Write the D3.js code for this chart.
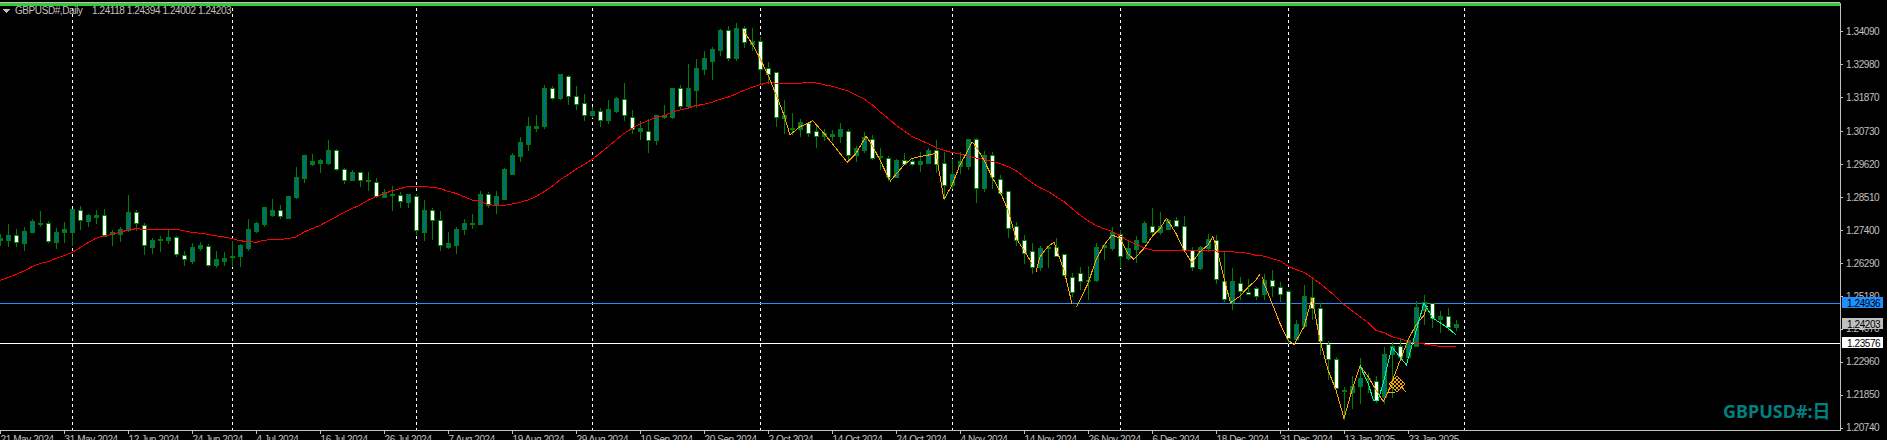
<!DOCTYPE html>
<html>
<head>
<meta charset="utf-8">
<title>GBPUSD#,Daily</title>
<script src="https://cdn.jsdelivr.net/npm/d3@7"></script>
<style>
html,body {margin:0;padding:0;background:#000;overflow:hidden;}
svg {display:block;}
svg path,svg line,svg rect {shape-rendering:crispEdges;}
text {font-family:"Liberation Sans",sans-serif;font-size:10px;fill:#c0c0c0;letter-spacing:-0.42px;}
</style>
</head>
<body>
<svg id="chart"></svg>
<script>
//values, one per daily bar
var opens = [
1.2705,1.2706,1.2720,1.2693,1.2731,1.2760,1.2762,1.2699,1.2731,1.2731,
1.2806,1.2767,1.2781,1.2789,1.2725,1.2724,1.2738,1.2799,1.2755,1.2682,
1.2705,1.2706,1.2715,1.2654,1.2632,1.2679,1.2685,1.2619,1.2635,1.2650,
1.2649,1.2676,1.2736,1.2757,1.2790,1.2807,1.2780,1.2848,1.2912,1.2959,
1.2965,1.2965,1.3008,1.2945,1.2908,1.2934,1.2905,1.2901,1.2848,1.2855,
1.2857,1.2834,1.2854,1.2731,1.2804,1.2773,1.2682,1.2686,1.2740,1.2759,
1.2757,1.2858,1.2821,1.2844,1.2928,1.2986,1.3029,1.3083,1.3087,1.3215,
1.3181,1.3258,1.3191,1.3167,1.3127,1.3140,1.3110,1.3140,1.3178,1.3117,
1.3073,1.3070,1.3040,1.3119,1.3117,1.3218,1.3157,1.3208,1.3279,1.3306,
1.3343,1.3413,1.3319,1.3417,1.3363,1.3376,1.3285,1.3269,1.3114,1.3077,
1.3077,1.3100,1.3070,1.3056,1.3056,1.3056,1.3073,1.2989,1.3006,1.3043,
1.2983,1.2982,1.2918,1.2975,1.2972,1.2959,1.2965,1.3006,1.2965,1.2891,
1.2955,1.2952,1.3043,1.2878,1.2989,1.2911,1.2868,1.2750,1.2703,1.2666,
1.2612,1.2678,1.2682,1.2656,1.2581,1.2592,1.2565,1.2568,1.2681,1.2679,
1.2723,1.2645,1.2673,1.2699,1.2753,1.2731,1.2740,1.2772,1.2752,1.2672,
1.2609,1.2679,1.2705,1.2567,1.2495,1.2560,1.2528,1.2543,1.2523,1.2570,
1.2547,1.2533,1.2372,1.2414,1.2513,1.2476,1.2355,1.2304,1.2196,1.2194,
1.2211,1.2235,1.2231,1.2174,1.2319,1.2346,1.2309,1.2349,1.2470,1.2491,
1.2437,1.2447,1.24118]

var highs = [
1.2729,1.2762,1.2745,1.2751,1.2779,1.2805,1.2773,1.2749,1.2767,1.2809,
1.2821,1.2796,1.2809,1.2813,1.2740,1.2753,1.2861,1.2809,1.2766,1.2713,
1.2722,1.2740,1.2722,1.2672,1.2699,1.2702,1.2693,1.2672,1.2666,1.2706,
1.2695,1.2780,1.2769,1.2817,1.2847,1.2827,1.2852,1.2952,1.2992,1.2996,
1.2982,1.3046,1.3013,1.2951,1.2945,1.2935,1.2938,1.2915,1.2881,1.2891,
1.2868,1.2864,1.2864,1.2841,1.2817,1.2804,1.2736,1.2753,1.2777,1.2796,
1.2874,1.2871,1.2874,1.2949,1.3000,1.3053,1.3121,1.3130,1.3231,1.3225,
1.3268,1.3265,1.3228,1.3201,1.3157,1.3151,1.3178,1.3188,1.3238,1.3144,
1.3110,1.3114,1.3127,1.3161,1.3218,1.3231,1.3299,1.3316,1.3343,1.3359,
1.3417,1.3430,1.3437,1.3430,1.3423,1.3390,1.3306,1.3275,1.3178,1.3137,
1.3114,1.3103,1.3100,1.3082,1.3077,1.3103,1.3080,1.3026,1.3073,1.3060,
1.3016,1.2992,1.2982,1.3000,1.2979,1.3003,1.3019,1.3046,1.3003,1.2982,
1.3003,1.3043,1.3050,1.3009,1.3003,1.2928,1.2874,1.2770,1.2723,1.2699,
1.2689,1.2686,1.2716,1.2662,1.2595,1.2616,1.2619,1.2696,1.2695,1.2753,
1.2740,1.2706,1.2720,1.2773,1.2814,1.2801,1.2779,1.2785,1.2790,1.2684,
1.2689,1.2729,1.2723,1.2672,1.2614,1.2582,1.2577,1.2549,1.2594,1.2607,
1.2566,1.2538,1.2437,1.2555,1.2580,1.2495,1.2369,1.2313,1.2212,1.2251,
1.2309,1.2261,1.2248,1.2346,1.2363,1.2379,1.2379,1.2501,1.2524,1.2497,
1.2467,1.2480,1.24394]

var lows = [
1.2686,1.2684,1.2684,1.2672,1.2731,1.2753,1.2697,1.2679,1.2699,1.2689,
1.2740,1.2753,1.2760,1.2717,1.2686,1.2702,1.2734,1.2738,1.2656,1.2659,
1.2666,1.2695,1.2652,1.2619,1.2627,1.2670,1.2616,1.2612,1.2619,1.2616,
1.2616,1.2672,1.2733,1.2753,1.2785,1.2778,1.2778,1.2845,1.2901,1.2958,
1.2935,1.2962,1.2940,1.2897,1.2905,1.2885,1.2874,1.2850,1.2848,1.2804,
1.2817,1.2817,1.2725,1.2706,1.2709,1.2672,1.2679,1.2662,1.2726,1.2746,
1.2757,1.2814,1.2797,1.2844,1.2928,1.2972,1.3009,1.3073,1.3083,1.3178,
1.3178,1.3164,1.3144,1.3107,1.3117,1.3087,1.3100,1.3134,1.3107,1.3065,
1.3046,1.3000,1.3029,1.3116,1.3114,1.3144,1.3154,1.3151,1.3265,1.3245,
1.3329,1.3309,1.3309,1.3356,1.3346,1.3231,1.3234,1.3090,1.3065,1.3060,
1.3054,1.3053,1.3016,1.3040,1.3040,1.3033,1.2976,1.2972,1.3000,1.2976,
1.2942,1.2908,1.2918,1.2959,1.2956,1.2938,1.2965,1.2935,1.2841,1.2880,
1.2931,1.2945,1.2831,1.2868,1.2881,1.2861,1.2716,1.2686,1.2627,1.2594,
1.2605,1.2612,1.2652,1.2583,1.2515,1.2541,1.2504,1.2565,1.2642,1.2670,
1.2615,1.2639,1.2630,1.2699,1.2720,1.2723,1.2740,1.2751,1.2672,1.2605,
1.2607,1.2667,1.2560,1.2498,1.2473,1.2504,1.2521,1.2504,1.2504,1.2515,
1.2498,1.2358,1.2369,1.2412,1.2437,1.2319,1.2237,1.2207,1.2102,1.2137,
1.2157,1.2194,1.2160,1.2157,1.2177,1.2302,1.2309,1.2346,1.2423,1.2413,
1.2393,1.2400,1.24002]

var closes = [
1.2712,1.2720,1.2697,1.2736,1.2770,1.2762,1.2700,1.2733,1.2743,1.2809,
1.2771,1.2787,1.2790,1.2717,1.2733,1.2740,1.2800,1.2761,1.2687,1.2706,
1.2709,1.2716,1.2656,1.2640,1.2682,1.2689,1.2619,1.2639,1.2645,1.2652,
1.2686,1.2743,1.2760,1.2817,1.2807,1.2784,1.2851,1.2915,1.2989,1.2969,
1.2975,1.3009,1.2942,1.2908,1.2935,1.2906,1.2907,1.2851,1.2867,1.2860,
1.2835,1.2858,1.2738,1.2807,1.2773,1.2689,1.2693,1.2743,1.2760,1.2763,
1.2861,1.2821,1.2851,1.2945,1.2989,1.3033,1.3087,1.3090,1.3215,1.3184,
1.3262,1.3188,1.3164,1.3124,1.3140,1.3110,1.3147,1.3181,1.3124,1.3077,
1.3080,1.3040,1.3127,1.3124,1.3218,1.3157,1.3215,1.3285,1.3316,1.3349,
1.3413,1.3319,1.3417,1.3370,1.3376,1.3282,1.3265,1.3120,1.3124,1.3083,
1.3103,1.3066,1.3056,1.3066,1.3063,1.3077,1.2989,1.3013,1.3050,1.2982,
1.2986,1.2918,1.2975,1.2959,1.2959,1.2969,1.3006,1.2962,1.2891,1.2925,
1.2969,1.3043,1.2878,1.2989,1.2915,1.2864,1.2746,1.2706,1.2662,1.2615,
1.2679,1.2682,1.2652,1.2588,1.2528,1.2565,1.2571,1.2682,1.2686,1.2733,
1.2649,1.2676,1.2703,1.2760,1.2733,1.2751,1.2773,1.2752,1.2672,1.2614,
1.2681,1.2708,1.2574,1.2504,1.2567,1.2533,1.2523,1.2516,1.2570,1.2550,
1.2521,1.2375,1.2423,1.2516,1.2476,1.2365,1.2304,1.2207,1.2200,1.2214,
1.2238,1.2241,1.2164,1.2319,1.2349,1.2309,1.2369,1.2480,1.2494,1.2440,
1.2447,1.2413,1.24203]

//red moving average, one value per bar
var maVals = [
1.2570,1.2580,1.2590,1.2602,1.2616,1.2627,1.2633,1.2644,1.2653,1.2664,
1.2680,1.2697,1.2712,1.2720,1.2725,1.2733,1.2739,1.2744,1.2742,1.2742,
1.2742,1.2742,1.2742,1.2737,1.2732,1.2729,1.2725,1.2720,1.2716,1.2711,
1.2703,1.2702,1.2698,1.2705,1.2708,1.2708,1.2711,1.2716,1.2733,1.2744,
1.2755,1.2770,1.2784,1.2799,1.2812,1.2824,1.2840,1.2852,1.2862,1.2872,
1.2879,1.2886,1.2887,1.2887,1.2883,1.2880,1.2870,1.2863,1.2852,1.2841,
1.2836,1.2826,1.2822,1.2823,1.2827,1.2833,1.2841,1.2852,1.2869,1.2886,
1.2909,1.2926,1.2944,1.2960,1.2978,1.2998,1.3020,1.3043,1.3065,1.3082,
1.3097,1.3108,1.3119,1.3124,1.3137,1.3144,1.3150,1.3159,1.3163,1.3170,
1.3180,1.3187,1.3198,1.3210,1.3220,1.3229,1.3237,1.3234,1.3234,1.3234,
1.3234,1.3237,1.3235,1.3229,1.3224,1.3216,1.3208,1.3194,1.3181,1.3162,
1.3138,1.3116,1.3093,1.3074,1.3054,1.3043,1.3031,1.3017,1.3008,1.3001,
1.2996,1.2989,1.2982,1.2978,1.2971,1.2963,1.2953,1.2940,1.2919,1.2899,
1.2882,1.2870,1.2852,1.2835,1.2812,1.2790,1.2771,1.2755,1.2744,1.2735,
1.2720,1.2704,1.2692,1.2679,1.2672,1.2670,1.2671,1.2671,1.2671,1.2670,
1.2669,1.2671,1.2669,1.2668,1.2667,1.2663,1.2662,1.2654,1.2652,1.2643,
1.2636,1.2618,1.2607,1.2597,1.2579,1.2560,1.2538,1.2515,1.2488,1.2468,
1.2448,1.2428,1.2401,1.2394,1.2380,1.2374,1.2365,1.2358,1.2356,1.2352,
1.2347,1.2347,1.2349]

//orange line: bar position and price, null breaks the line
var orangeBars = [93,94,95,96,97,98,98.75,100,101,101.6,103,104,105,105.9,107,108,108.25,109,110,111,111.3,113,114,115,116,117,118,119,120,121,121.5,122,123,124,125,126,127,128,129,null,
129.5,130,131,131.75,132,133,134,null,
134.6,135,136,137,138,139,140,141,141.75,143,144,145,145.8,147,148,149,150,151,151.6,152,153,153.8,155,156,157,157.5,null,
157.8,158,159,160,161,161.75,163,164,165,166,167,168,169,170,171,172,172.9,173.5,174.4,176,177,178,178.4]
var orangeVals = [1.3408,1.3368,1.3318,1.3262,1.3197,1.3127,1.3060,1.3088,1.3099,1.3108,1.3065,1.3032,1.2998,1.2968,1.2998,1.3043,1.3057,1.3026,1.2975,1.2919,1.2905,1.2959,1.2981,1.2987,1.2992,1.2998,1.2843,1.2891,1.2959,1.3009,1.3037,1.3020,1.2975,1.2919,1.2869,1.2807,1.2712,1.2672,1.2627,null,
1.2599,1.2650,1.2684,1.2698,1.2678,1.2605,1.2491,null,
1.2481,1.2504,1.2560,1.2639,1.2689,1.2723,1.2712,1.2659,1.2641,1.2678,1.2717,1.2745,1.2779,1.2728,1.2672,1.2630,1.2667,1.2689,1.2717,1.2689,1.2577,1.2495,1.2517,1.2547,1.2571,1.2591,null,
1.2582,1.2560,1.2493,1.2425,1.2369,1.2353,1.2414,1.2510,1.2369,1.2268,1.2201,1.2105,1.2201,1.2283,1.2246,1.2201,1.2162,1.2195,1.2257,1.2369,1.2420,1.2453,1.2484]

//mint line
var mintBars = [170,171,171.7,172.25,172.9,174,175.8,178,179.1,181,182]
var mintVals = [1.2282,1.2224,1.2165,1.2165,1.2224,1.2346,1.2285,1.2494,1.2443,1.2410,1.2386]

var dateLabels = ["21 May 2024","31 May 2024","12 Jun 2024","24 Jun 2024","4 Jul 2024","16 Jul 2024",
    "26 Jul 2024","7 Aug 2024","19 Aug 2024","29 Aug 2024","10 Sep 2024","20 Sep 2024","2 Oct 2024",
    "14 Oct 2024","24 Oct 2024","4 Nov 2024","14 Nov 2024","26 Nov 2024","6 Dec 2024","18 Dec 2024",
    "31 Dec 2024","13 Jan 2025","23 Jan 2025"]
var dateBars = dateLabels.map(function(d,i) {return i*8})
var monthBars = [9,29,52,74,95,119,140,161,183]
var priceTicks = [1.34090,1.32980,1.31870,1.30730,1.29620,1.28510,1.27400,1.26290,1.25180,1.24070,1.22960,1.21850,1.20740]
var title = "GBPUSD#,Daily"
var ohlcText = "1.24118 1.24394 1.24002 1.24203"
var watermark = "GBPUSD#:日"
var bidPrice = 1.24936
var lastPrice = 1.24203
var lowLine = 1.23576

var screen = {width:1887,height:440}
var plot = {left:0,right:1840,top:2,bottom:430}

var svg = d3.select("#chart")
    .attr("width",screen.width)
    .attr("height",screen.height)

//1 bar = 8px, the chart leaves empty room to the right of the last bar
var xScale = d3.scaleLinear()
    .domain([0,230])
    .range([plot.left,plot.right])

var yScale = d3.scaleLinear()
    .domain([1.20661,1.35077])
    .range([plot.bottom,plot.top])

var px = function(v) {return Math.floor(v)+0.5}

//month separators
svg.append("g").selectAll("line")
    .data(monthBars)
    .enter()
    .append("line")
    .attr("x1",function(d) {return xScale(d)+0.5})
    .attr("x2",function(d) {return xScale(d)+0.5})
    .attr("y1",8)
    .attr("y2",plot.bottom)
    .attr("stroke","#ffffff")
    .attr("stroke-dasharray","3,3")

//horizontal price lines
var drawHLine = function(price,color)
{
    svg.append("line")
        .attr("x1",plot.left)
        .attr("x2",plot.right)
        .attr("y1",px(yScale(price)))
        .attr("y2",px(yScale(price)))
        .attr("stroke",color)
}
drawHLine(bidPrice,"#1e90ff")
drawHLine(lowLine,"#ffffff")

//candles
var candles = svg.append("g").selectAll("g")
    .data(opens)
    .enter()
    .append("g")

candles.append("line")
    .attr("x1",function(d,i) {return xScale(i)+0.5})
    .attr("x2",function(d,i) {return xScale(i)+0.5})
    .attr("y1",function(d,i) {return px(yScale(highs[i]))})
    .attr("y2",function(d,i) {return px(yScale(lows[i]))})
    .attr("stroke","#008000")

candles.append("rect")
    .attr("x",function(d,i) {return xScale(i)-1.5})
    .attr("width",4)
    .attr("y",function(d,i) {return px(yScale(Math.max(d,closes[i])))})
    .attr("height",function(d,i) {return Math.max(1,px(yScale(Math.min(d,closes[i])))-px(yScale(Math.max(d,closes[i]))))})
    .attr("fill",function(d,i) {return closes[i]>=d ? "#006e78" : "#ffffff"})
    .attr("stroke","#008000")

//indicator lines
var drawLine = function(bars,vals,color,width)
{
    var line = d3.line()
        .defined(function(d) {return d!==null})
        .x(function(d) {return xScale(d)})
        .y(function(d,i) {return yScale(vals[i])})
    svg.append("path")
        .attr("d",line(bars))
        .attr("fill","none")
        .attr("stroke",color)
        .attr("stroke-width",width)
}
drawLine(maVals.map(function(d,i) {return i}),maVals,"#ff0000",1)
drawLine(orangeBars,orangeVals,"#ffa500",1)
drawLine(mintBars,mintVals,"#00fa9a",1)

//little hatched arrow next to the orange line
var arrow = svg.append("g")
    .attr("transform","translate("+xScale(174.6)+","+yScale(1.2221)+")")
    .attr("stroke","#ffa500")
    .attr("fill","none")
var hatch = [-4,-2,0,2,4]
hatch.forEach(function(h)
{
    arrow.append("line").attr("x1",h-4).attr("y1",h+4).attr("x2",h+4).attr("y2",h-4)
    arrow.append("line").attr("x1",h-4).attr("y1",-h-4).attr("x2",h+4).attr("y2",-h+4)
})
arrow.append("line").attr("x1",4).attr("y1",2).attr("x2",9).attr("y2",8)
arrow.append("path").attr("d","M-5,3L-8,6L-8,8L-2,8")

//axes
var xAxis = d3.axisBottom(xScale)
    .tickValues(dateBars)
    .tickFormat(function(d,i) {return dateLabels[i]})
    .tickSize(4)
    .tickSizeOuter(0)
var xG = svg.append("g")
    .attr("transform","translate(0,"+plot.bottom+")")
    .call(xAxis)
xG.selectAll("text")
    .attr("text-anchor","start")
    .attr("x",0)
    .attr("y",6)
xG.selectAll("line,path").attr("stroke","#c0c0c0")

var yAxis = d3.axisRight(yScale)
    .tickValues(priceTicks)
    .tickFormat(d3.format(".5f"))
    .tickSize(3)
    .tickPadding(3)
    .tickSizeOuter(0)
var yG = svg.append("g")
    .attr("transform","translate("+plot.right+",0)")
    .call(yAxis)
yG.selectAll("line,path").attr("stroke","#c0c0c0")

//price boxes on the axis
var drawPriceBox = function(price,color)
{
    var cy = Math.floor(yScale(price))
    svg.append("rect")
        .attr("x",plot.right+2)
        .attr("y",cy-6)
        .attr("width",41)
        .attr("height",11)
        .attr("fill",color)
    svg.append("text")
        .attr("x",plot.right+7)
        .attr("y",cy+4)
        .style("fill","#000000")
        .text(d3.format(".5f")(price))
}
drawPriceBox(bidPrice,"#1e90ff")
drawPriceBox(lastPrice,"#c0c0c0")
drawPriceBox(lowLine,"#ffffff")

//top border
svg.append("rect").attr("x",0).attr("y",2).attr("width",plot.right).attr("height",1).attr("fill","#c0c0c0")
svg.append("rect").attr("x",0).attr("y",3).attr("width",plot.right).attr("height",3).attr("fill","#32cd32")

//header
svg.append("path").attr("d","M3,9L10,9L6.5,13Z").attr("fill","#c0c0c0")
svg.append("text").attr("x",15).attr("y",14).text(title)
svg.append("text").attr("x",92).attr("y",14).text(ohlcText)

svg.append("text")
    .attr("x",1723)
    .attr("y",418)
    .style("font-family","'Noto Sans','Noto Sans CJK JP',sans-serif")
    .style("font-size","18px")
    .style("font-weight","bold")
    .style("letter-spacing","0")
    .style("fill","#008080")
    .text(watermark)
</script>
</body>
</html>
